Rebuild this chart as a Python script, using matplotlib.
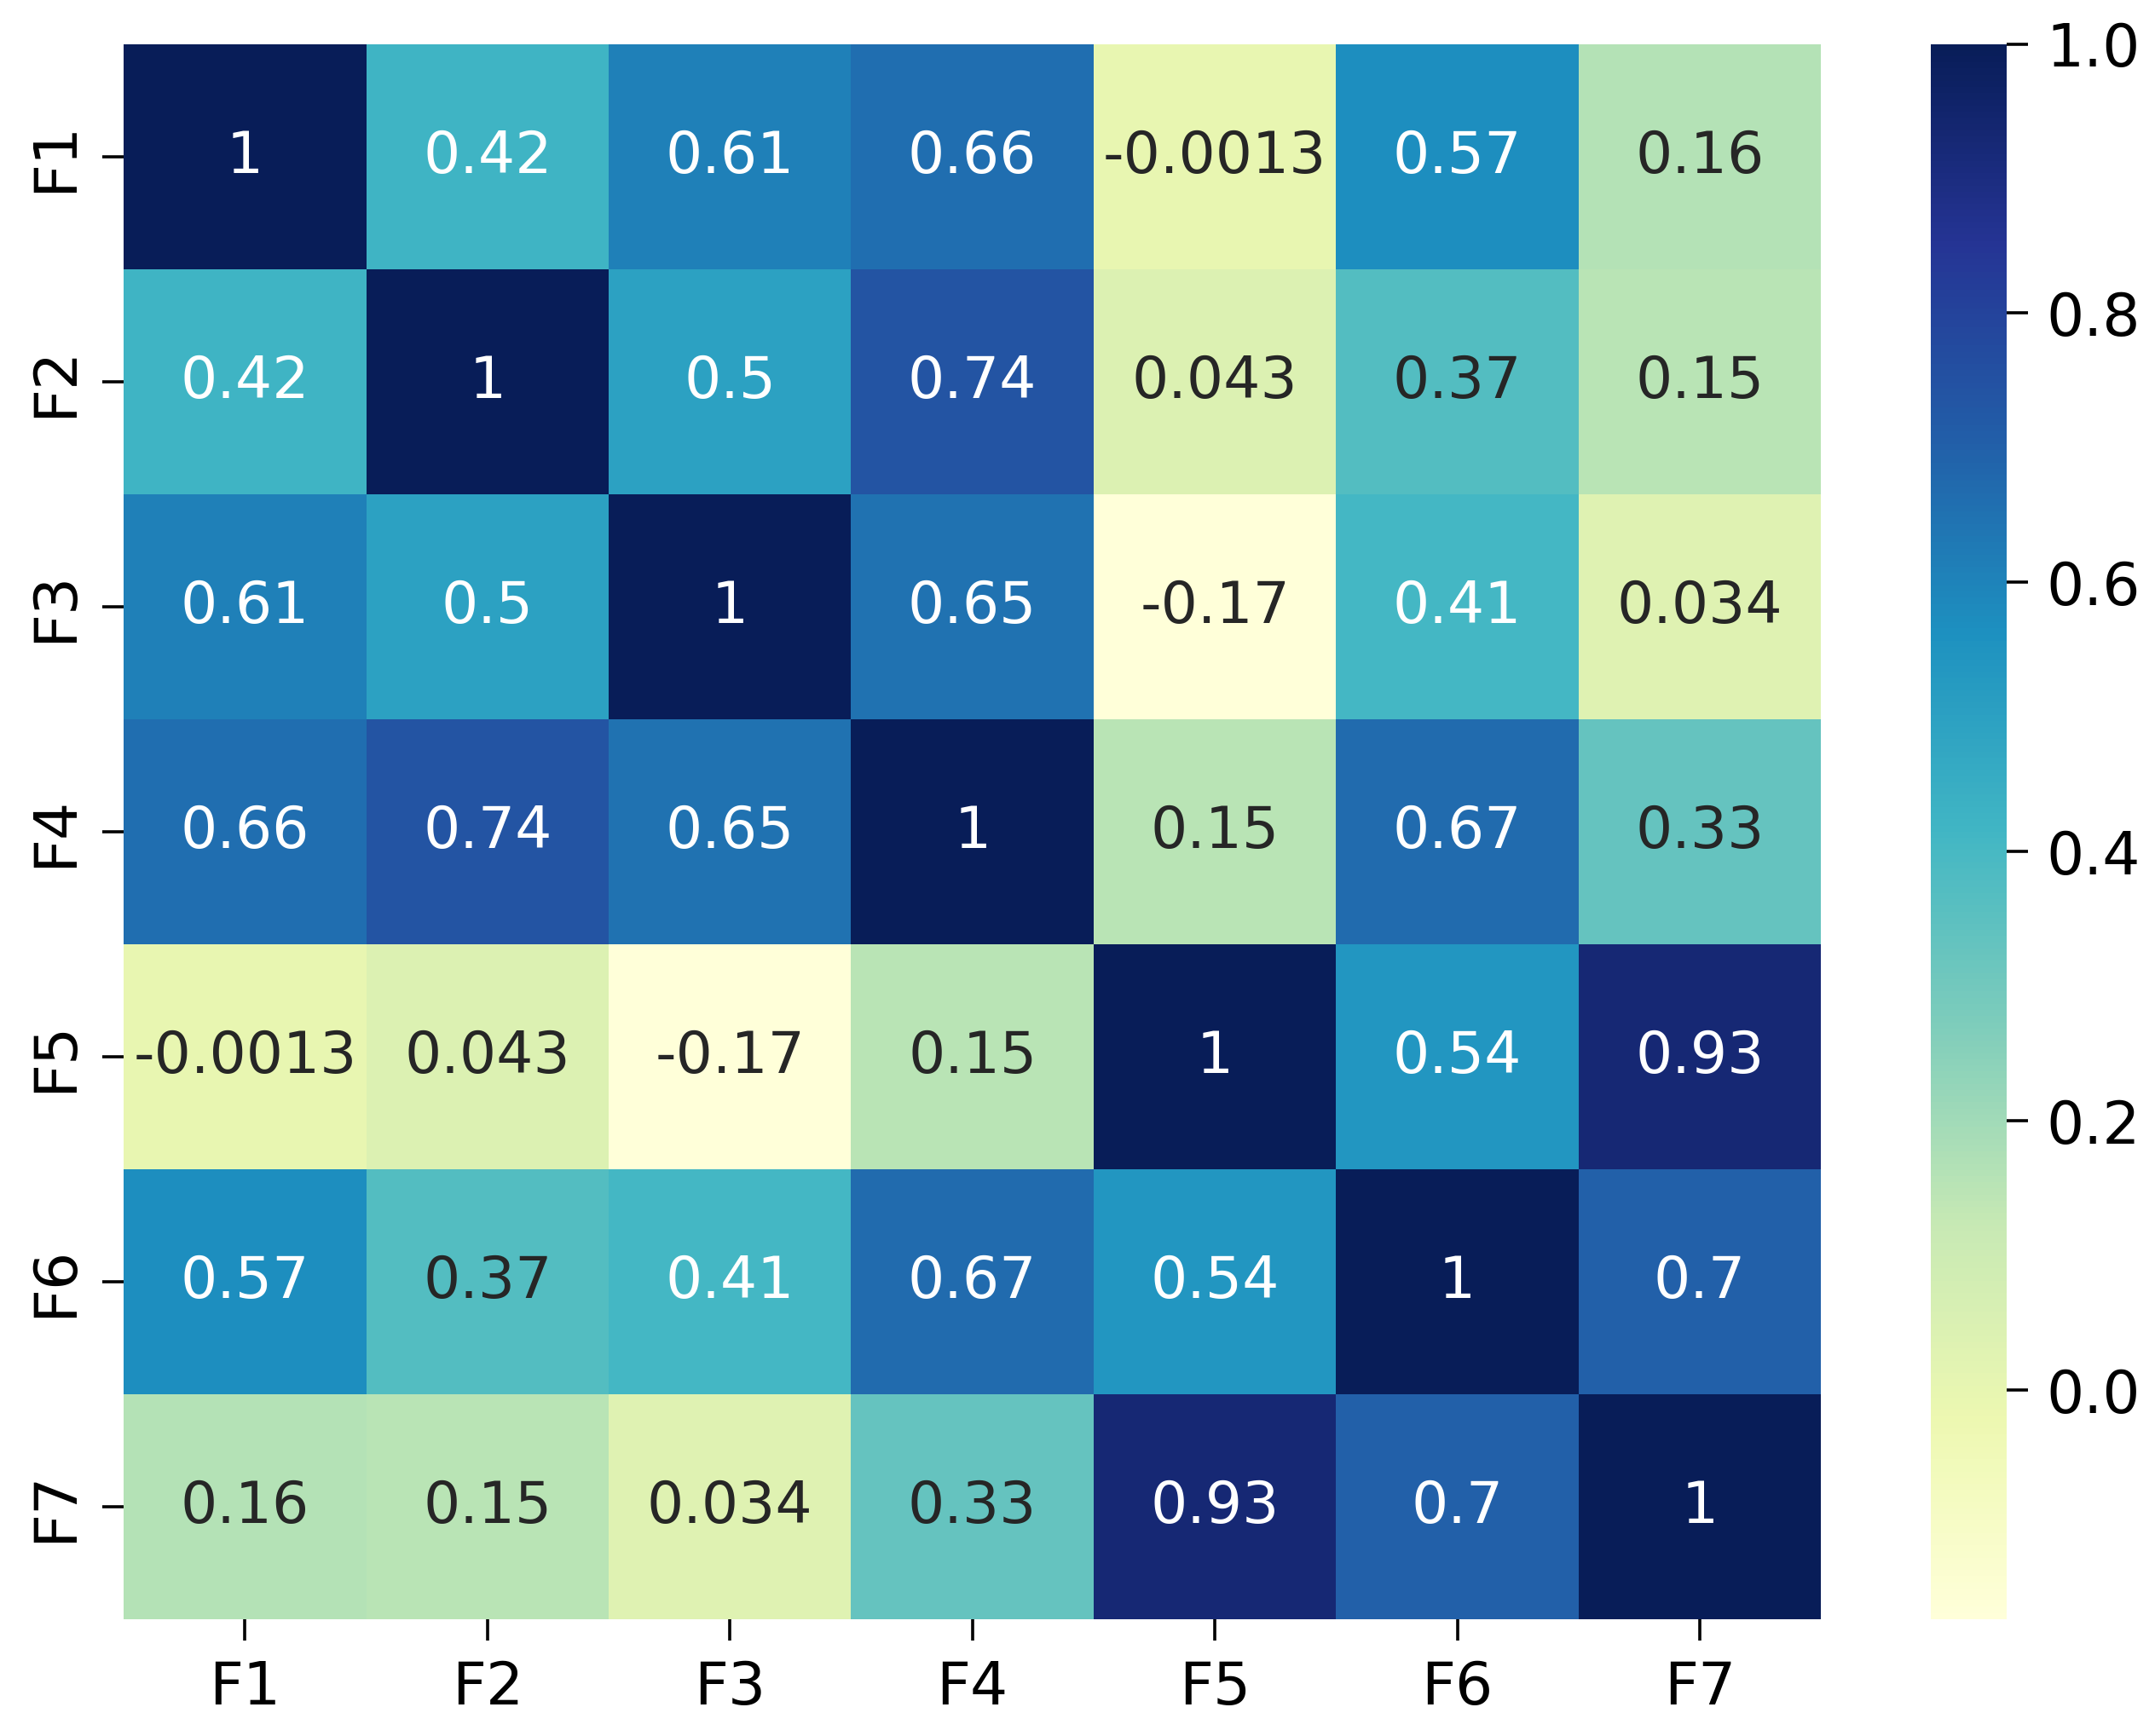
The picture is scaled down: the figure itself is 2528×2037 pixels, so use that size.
"""Correlation heatmap of features F1..F7."""

import numpy as np
import matplotlib
matplotlib.use("Agg")
import matplotlib.pyplot as plt
import seaborn as sns

labels = ["F1", "F2", "F3", "F4", "F5", "F6", "F7"]
row_f1 = [1, 0.42, 0.61, 0.66, -0.0013, 0.57, 0.16]
row_f2 = [0.42, 1, 0.5, 0.74, 0.043, 0.37, 0.15]
row_f3 = [0.61, 0.5, 1, 0.65, -0.17, 0.41, 0.034]
row_f4 = [0.66, 0.74, 0.65, 1, 0.15, 0.67, 0.33]
row_f5 = [-0.0013, 0.043, -0.17, 0.15, 1, 0.54, 0.93]
row_f6 = [0.57, 0.37, 0.41, 0.67, 0.54, 1, 0.7]
row_f7 = [0.16, 0.15, 0.034, 0.33, 0.93, 0.7, 1]

corr = np.array([row_f1, row_f2, row_f3, row_f4, row_f5, row_f6, row_f7])

fig = plt.figure(figsize=(2528 / 200, 2037 / 200), dpi=200)
ax = fig.add_axes([0.0574, 0.0673, 0.7876, 0.9074])
cax = fig.add_axes([0.896, 0.0673, 0.035, 0.9074])

sns.heatmap(corr, annot=True, cmap="YlGnBu", ax=ax, cbar_ax=cax,
            xticklabels=labels, yticklabels=labels,
            annot_kws={"fontsize": 24.5})

ax.tick_params(axis="both", labelsize=25, length=9, width=1.3, pad=8)
cax.tick_params(labelsize=25, length=9, width=1.3, pad=8)
cax.set_yticks([0.0, 0.2, 0.4, 0.6, 0.8, 1.0])

fig.savefig("out.png", dpi=200)
plt.close(fig)
